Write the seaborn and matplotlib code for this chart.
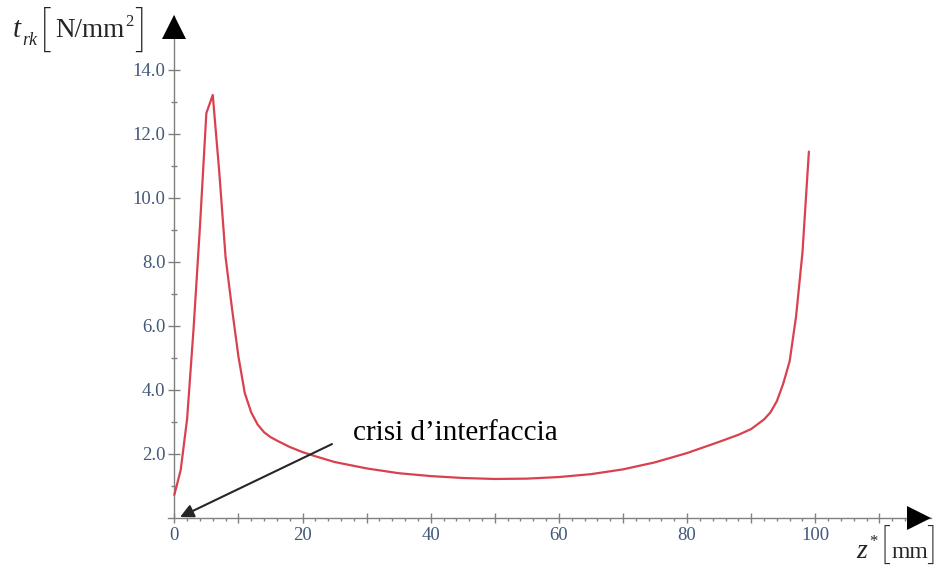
import matplotlib
matplotlib.use("Agg")
import matplotlib.pyplot as plt
import matplotlib.transforms as mtrans
import pandas as pd
import seaborn as sns

# Interfacial shear stress t_rk along the bonded length z*
z_mm = [0, 1, 2, 3, 4, 5, 6, 7, 8, 9, 10, 11, 12, 13, 14, 15, 16, 18, 20, 22,
        25, 30, 35, 40, 45, 50, 55, 60, 65, 70, 75, 80, 85, 88, 90, 92, 93,
        94, 95, 96, 97, 98, 99]
t_rk = [0.72, 1.5, 3.1, 5.9, 9.1, 12.65, 13.22, 10.85, 8.15, 6.55, 5.05, 3.9,
        3.3, 2.92, 2.68, 2.53, 2.42, 2.22, 2.06, 1.93, 1.75, 1.55, 1.4, 1.31,
        1.25, 1.22, 1.23, 1.28, 1.37, 1.52, 1.74, 2.03, 2.38, 2.6, 2.78, 3.08,
        3.3, 3.65, 4.2, 4.9, 6.3, 8.3, 11.45]

x_major = list(range(0, 111, 10))
x_labelled = [0, 20, 40, 60, 80, 100]
x_minor = [v for v in range(2, 115, 2) if v % 10 != 0]
y_major = [2, 4, 6, 8, 10, 12, 14]
y_minor = [1, 3, 5, 7, 9, 11, 13]

annotation_text = "crisi d\u2019interfaccia"

curve_color = "#d9414e"
axis_gray = "#808080"
label_color = "#44587a"

sns.set_theme(style="white")
plt.rcParams["font.family"] = ["Liberation Serif", "DejaVu Serif"]

W, H = 941, 568
fig = plt.figure(figsize=(W / 100, H / 100), dpi=100)

# axes geometry (pixels): origin and scale of the data frame
x0_px, y0_px = 174.3, 518.0
px_per_x, px_per_y = 6.41, 32.0
xlim = (-1.0, 118.0)
ylim = (0.0, 15.7)
left = x0_px + xlim[0] * px_per_x
right = x0_px + xlim[1] * px_per_x
top = y0_px - ylim[1] * px_per_y
ax = fig.add_axes([left / W, 1 - y0_px / H, (right - left) / W, (y0_px - top) / H])

df = pd.DataFrame({"z": z_mm, "t": t_rk})
sns.lineplot(data=df, x="z", y="t", ax=ax, color=curve_color, linewidth=1.6,
             estimator=None, zorder=3)
ax.set_xlabel("")
ax.set_ylabel("")
ax.set_xlim(*xlim)
ax.set_ylim(*ylim)

for side in ("top", "right"):
    ax.spines[side].set_visible(False)
ax.spines["left"].set_position(("data", 0))
ax.spines["bottom"].set_position(("data", 0))
for side in ("left", "bottom"):
    ax.spines[side].set_color(axis_gray)
    ax.spines[side].set_linewidth(1.0)

ax.set_xticks(x_major)
ax.set_xticklabels([str(v) if v in x_labelled else "" for v in x_major])
ax.set_xticks(x_minor, minor=True)
ax.set_yticks(y_major)
ax.set_yticklabels([f"{v:.1f}" for v in y_major])
ax.set_yticks(y_minor, minor=True)

ax.tick_params(bottom=True, left=True, which="both")
ax.tick_params(axis="x", which="major", direction="inout", length=7, width=1,
               color=axis_gray, labelsize=13.5, labelcolor=label_color, pad=3)
ax.tick_params(axis="x", which="minor", direction="out", length=2.5, width=1,
               color=axis_gray)
ax.tick_params(axis="y", which="major", direction="inout", length=9, width=1,
               color=axis_gray, labelsize=13.5, labelcolor=label_color, pad=2)
ax.tick_params(axis="y", which="minor", direction="inout", length=4, width=1,
               color=axis_gray)

# arrow heads at the ends of both axes
tri = 17
ax.plot([0], [1], marker="^", ms=tri, mew=0, color="black", clip_on=False,
        zorder=6,
        transform=mtrans.offset_copy(ax.get_xaxis_transform(), fig=fig,
                                     y=-tri / 2, units="points"))
ax.plot([1], [0], marker=">", ms=tri, mew=0, color="black", clip_on=False,
        zorder=6,
        transform=mtrans.offset_copy(ax.get_yaxis_transform(), fig=fig,
                                     x=-tri / 2, units="points"))

# callout pointing at the origin
ax.annotate("", xy=(0.9, 0.03), xytext=(24.6, 2.31),
            arrowprops=dict(arrowstyle="-|>", color="#262626", lw=1.5,
                            mutation_scale=20, shrinkA=0, shrinkB=0),
            zorder=5)
ax.text(27.9, 2.44, annotation_text, ha="left", va="baseline", fontsize=21,
        color="black")


def fpos(x, y):
    return x / W, 1 - y / H


bracket_font = dict(family=["Roboto", "DejaVu Sans"], fontweight=100,
                    color="#222222", va="baseline")

# y-axis title: t_rk [N/mm^2]
fig.text(*fpos(13, 37), "t", fontsize=21, style="italic", va="baseline")
fig.text(*fpos(22, 45), "rk", fontsize=13, style="italic", va="baseline")
fig.text(*fpos(40, 45), "[", fontsize=34, **bracket_font)
fig.text(*fpos(55, 37), "N/mm", fontsize=19.5, va="baseline")
fig.text(*fpos(125, 26), "2", fontsize=12, va="baseline")
fig.text(*fpos(135, 45), "]", fontsize=34, **bracket_font)

# x-axis title: z* [mm]
fig.text(*fpos(856, 558), "z", fontsize=20, style="italic", va="baseline")
fig.text(*fpos(869, 546), "*", fontsize=12, va="baseline")
fig.text(*fpos(880, 559), "[", fontsize=29, **bracket_font)
fig.text(*fpos(892, 558), "mm", fontsize=17, va="baseline")
fig.text(*fpos(927, 559), "]", fontsize=29, **bracket_font)

fig.savefig("out.png", dpi=100)
